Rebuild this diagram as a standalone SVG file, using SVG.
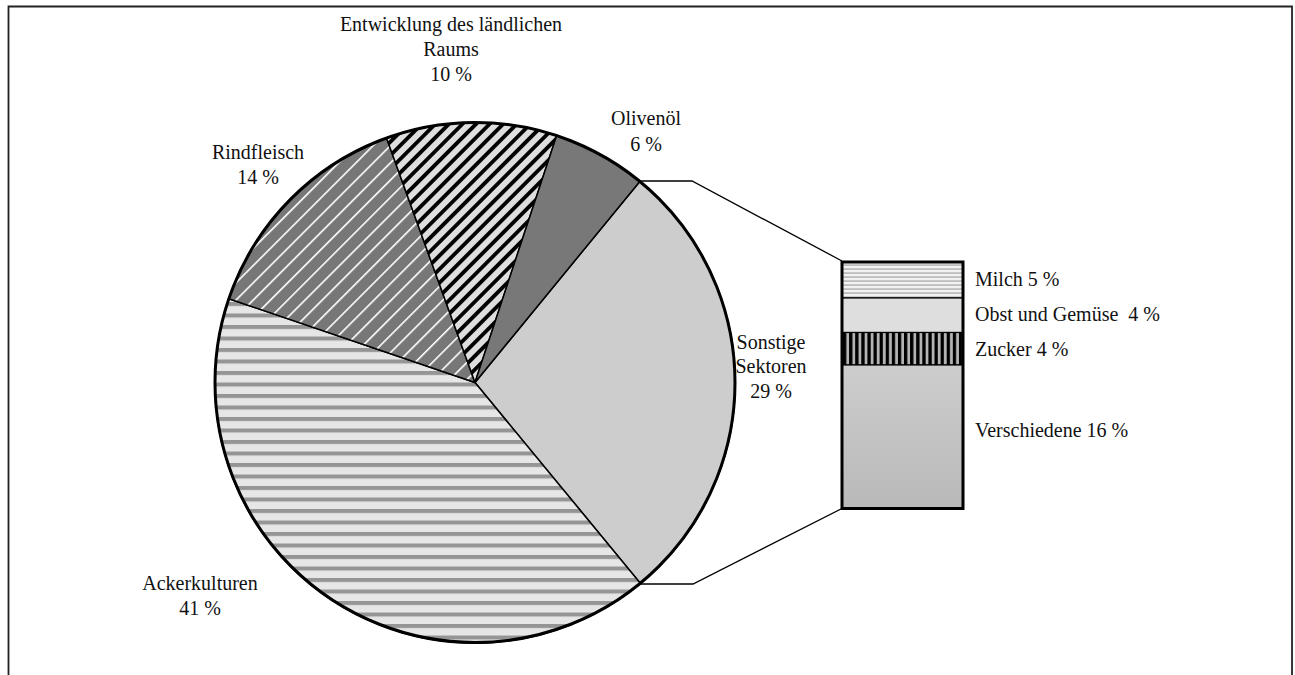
<svg xmlns="http://www.w3.org/2000/svg" width="1295" height="675" viewBox="0 0 1295 675">
<style>
.lbl{font-family:"Liberation Serif","DejaVu Serif",serif;font-size:20px;fill:#111}
.mid{text-anchor:middle}
.slice{stroke:#000;stroke-width:1.5;stroke-linejoin:round}
.conn{fill:none;stroke:#000;stroke-width:1.3}
.seg{stroke:#000;stroke-width:1.2}
</style>
<defs>
<pattern id="pAcker" patternUnits="userSpaceOnUse" x="0" y="325" width="20" height="11.5">
<rect width="20" height="11.5" fill="#e6e6e6"/>
<rect y="0" width="20" height="4" fill="#959595"/>
</pattern>
<pattern id="pRind" patternUnits="userSpaceOnUse" width="20" height="12.2" patternTransform="rotate(-45)">
<rect width="20" height="12.2" fill="#777"/>
<rect y="0" width="20" height="1.6" fill="#fff"/>
</pattern>
<pattern id="pEntw" patternUnits="userSpaceOnUse" width="20" height="9.6" patternTransform="rotate(-45)">
<rect width="20" height="9.6" fill="#dedede"/>
<rect y="0" width="20" height="3.8" fill="#000"/>
</pattern>
<pattern id="pMilch" patternUnits="userSpaceOnUse" x="0" y="262" width="20" height="4">
<rect width="20" height="4" fill="#bdbdbd"/>
<rect y="0" width="20" height="2.2" fill="#f2f2f2"/>
</pattern>
<pattern id="pZucker" patternUnits="userSpaceOnUse" x="843" y="0" width="6.1" height="20">
<rect width="6.1" height="20" fill="#b4b4b4"/>
<rect x="0" width="3.3" height="20" fill="#000"/>
</pattern>
<linearGradient id="gVer" x1="0" y1="0" x2="0" y2="1">
<stop offset="0" stop-color="#cdcdcd"/>
<stop offset="1" stop-color="#b9b9b9"/>
</linearGradient>
</defs>

<path d="M8.5 675 V6.5 H1292 V675" fill="none" stroke="#222" stroke-width="1.8"/>

<g id="pie">
<path id="slice-sonstige" class="slice" fill="#cdcdcd" d="M475 382.5 L639.8 181.4 A260 260 0 0 1 640.5 583.5 Z"/>
<path id="slice-acker" class="slice" fill="url(#pAcker)" d="M475 382.5 L640.5 583.5 A260 260 0 0 1 228.9 298.7 Z"/>
<path id="slice-rind" class="slice" fill="url(#pRind)" d="M475 382.5 L228.9 298.7 A260 260 0 0 1 386.5 138 Z"/>
<path id="slice-entw" class="slice" fill="url(#pEntw)" d="M475 382.5 L386.5 138 A260 260 0 0 1 556.6 135.7 Z"/>
<path id="slice-oliv" class="slice" fill="#787878" d="M475 382.5 L556.6 135.7 A260 260 0 0 1 639.8 181.4 Z"/>
<circle cx="475" cy="382.5" r="260" fill="none" stroke="#000" stroke-width="3"/>
</g>

<g id="connectors">
<path class="conn" d="M639.8 181 H692 L842 261"/>
<path class="conn" d="M640.5 584 H693 L842 508.5"/>
</g>

<g id="bar">
<rect id="seg-milch" class="seg" x="842" y="262" width="121" height="36" fill="url(#pMilch)"/>
<rect id="seg-obst" class="seg" x="842" y="298" width="121" height="34.5" fill="#dedede"/>
<rect id="seg-zucker" class="seg" x="842" y="332.5" width="121" height="32.5" fill="url(#pZucker)"/>
<rect id="seg-versch" class="seg" x="842" y="365" width="121" height="143.5" fill="url(#gVer)"/>
<rect x="842" y="262" width="121" height="246.5" fill="none" stroke="#000" stroke-width="3"/>
</g>

<g id="labels">
<g id="lbl-entw"><text class="lbl mid" x="451" y="31">Entwicklung des ländlichen</text><text class="lbl mid" x="451" y="56">Raums</text><text class="lbl mid" x="451" y="81">10 %</text></g>
<g id="lbl-oliv"><text class="lbl mid" x="646" y="125">Olivenöl</text><text class="lbl mid" x="646" y="151">6 %</text></g>
<g id="lbl-rind"><text class="lbl mid" x="258" y="159">Rindfleisch</text><text class="lbl mid" x="258" y="184">14 %</text></g>
<g id="lbl-sonst"><text class="lbl mid" x="771" y="349">Sonstige</text><text class="lbl mid" x="771" y="373">Sektoren</text><text class="lbl mid" x="771" y="398">29 %</text></g>
<g id="lbl-acker"><text class="lbl mid" x="200" y="590">Ackerkulturen</text><text class="lbl mid" x="200" y="615">41 %</text></g>
<text id="lbl-milch" class="lbl" x="975" y="286">Milch 5 %</text>
<text id="lbl-obst" class="lbl" x="975" y="321" xml:space="preserve">Obst und Gemüse  4 %</text>
<text id="lbl-zucker" class="lbl" x="975" y="356">Zucker 4 %</text>
<text id="lbl-versch" class="lbl" x="975" y="437">Verschiedene 16 %</text>
</g>
</svg>
